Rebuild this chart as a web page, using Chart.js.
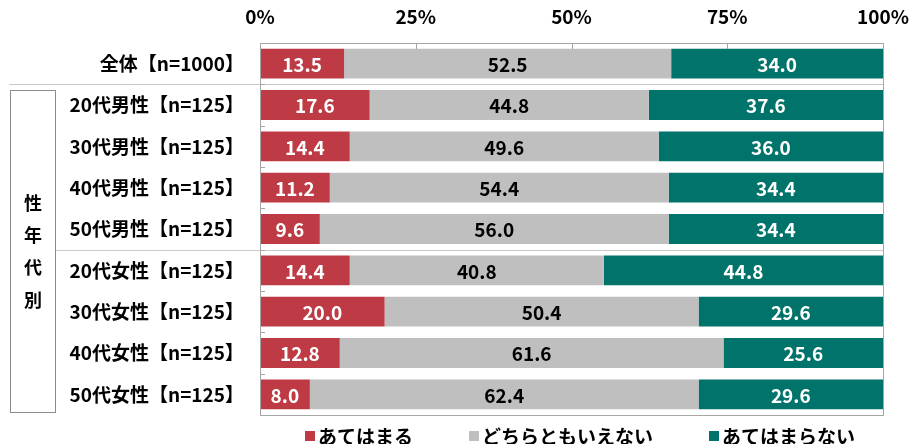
<!DOCTYPE html>
<html>
<head>
<meta charset="utf-8">
<script src="https://cdn.jsdelivr.net/npm/chart.js@4"></script>
<style>
  html, body { margin: 0; padding: 0; background: #fff; }
</style>
</head>
<body>
<canvas id="chart" width="914" height="444"></canvas>
<script>
// 行ラベル
var categories = [
  '全体【n=1000】',
  '20代男性【n=125】', '30代男性【n=125】', '40代男性【n=125】', '50代男性【n=125】',
  '20代女性【n=125】', '30代女性【n=125】', '40代女性【n=125】', '50代女性【n=125】'
];
// 各回答の割合 (%)
var atehamaru    = [13.5, 17.6, 14.4, 11.2,  9.6, 14.4, 20.0, 12.8,  8.0];
var dochiramo    = [52.5, 44.8, 49.6, 54.4, 56.0, 40.8, 50.4, 61.6, 62.4];
var atehamaranai = [34.0, 37.6, 36.0, 34.4, 34.4, 44.8, 29.6, 25.6, 29.6];
var seriesNames  = ['あてはまる', 'どちらともいえない', 'あてはまらない'];
var seriesColors = ['#be3a44', '#bfbfbf', '#00736a'];
var labelColors  = ['#ffffff', '#000000', '#ffffff'];
var xTicks = [0, 25, 50, 75, 100];
var groupLabel = '性年代別';
var separatorAfter = [0, 4]; // 区切り線を引く行

var FONT = '"Noto Sans CJK JP", "Noto Sans", sans-serif';

// 棒の中の数値
var valueLabels = {
  id: 'valueLabels',
  afterDatasetsDraw: function (chart) {
    var ctx = chart.ctx;
    ctx.save();
    ctx.font = 'bold 19px ' + FONT;
    ctx.textAlign = 'center';
    ctx.textBaseline = 'middle';
    chart.data.datasets.forEach(function (ds, i) {
      chart.getDatasetMeta(i).data.forEach(function (bar, j) {
        ctx.fillStyle = labelColors[i];
        ctx.fillText(ds.data[j].toFixed(1), (bar.x + bar.base) / 2, bar.y + 1);
      });
    });
    ctx.restore();
  }
};

// 枠・区切り線・目盛り・性年代別の枠・凡例
var decorations = {
  id: 'decorations',
  afterDraw: function (chart) {
    var ctx = chart.ctx, a = chart.chartArea;
    var xs = chart.scales.x;
    var step = (a.bottom - a.top) / categories.length;
    ctx.save();
    ctx.lineWidth = 1;

    // 区切り線
    ctx.strokeStyle = '#c8c8c8';
    separatorAfter.forEach(function (r, k) {
      var y = Math.round(a.top + (r + 1) * step) + 0.5;
      ctx.beginPath();
      ctx.moveTo(k === 0 ? 9 : 55, y);
      ctx.lineTo(a.right, y);
      ctx.stroke();
    });

    // プロット枠
    ctx.strokeStyle = '#a6a6a6';
    ctx.strokeRect(Math.round(a.left) + 0.5, Math.round(a.top) + 0.5,
      Math.round(a.right - a.left), Math.round(a.bottom - a.top));

    // 内向きの目盛り
    xTicks.slice(1, -1).forEach(function (v) {
      var x = Math.round(xs.getPixelForValue(v)) + 0.5;
      ctx.beginPath();
      ctx.moveTo(x, a.top);
      ctx.lineTo(x, a.top + 6);
      ctx.stroke();
    });
    for (var i = 1; i < categories.length; i++) {
      var y = Math.round(a.top + i * step) + 0.5;
      ctx.beginPath();
      ctx.moveTo(a.left, y);
      ctx.lineTo(a.left + 5, y);
      ctx.stroke();
    }

    // 性年代別の枠
    ctx.strokeStyle = '#8c8c8c';
    ctx.strokeRect(10.5, 90.5, 45, 322);
    ctx.fillStyle = '#000';
    ctx.font = 'bold 18px ' + FONT;
    ctx.textAlign = 'center';
    ctx.textBaseline = 'middle';
    var gy = [203, 235, 267, 300];
    groupLabel.split('').forEach(function (ch, k) {
      ctx.fillText(ch, 33, gy[k]);
    });

    // 凡例
    ctx.font = 'bold 19px ' + FONT;
    ctx.textAlign = 'left';
    var box = 10, gap = 3, spacing = 56;
    var widths = seriesNames.map(function (s) { return box + gap + ctx.measureText(s).width; });
    var total = widths.reduce(function (s, w) { return s + w; }, 0) + spacing * (widths.length - 1);
    var x = 580 - total / 2, ly = 436;
    seriesNames.forEach(function (s, k) {
      ctx.fillStyle = seriesColors[k];
      ctx.fillRect(x, ly - box / 2, box, box);
      ctx.fillStyle = '#000';
      ctx.fillText(s, x + box + gap, ly + 1);
      x += widths[k] + spacing;
    });
    ctx.restore();
  }
};

var datasets = [atehamaru, dochiramo, atehamaranai].map(function (vals, i) {
  return {
    label: seriesNames[i],
    data: vals,
    backgroundColor: seriesColors[i],
    borderWidth: 0,
    categoryPercentage: 1,
    barPercentage: 0.72
  };
});

var ctx = document.getElementById('chart');
var myChart = new Chart(ctx, {
  type: 'bar',
  data: { labels: categories, datasets: datasets },
  options: {
    responsive: false,
    animation: false,
    indexAxis: 'y',
    layout: { padding: { left: 0, right: 31, top: 0, bottom: 29 } },
    plugins: {
      legend: { display: false },
      tooltip: { enabled: false }
    },
    scales: {
      x: {
        position: 'top',
        stacked: true,
        min: 0,
        max: 100,
        afterBuildTicks: function (s) { s.ticks = xTicks.map(function (v) { return { value: v }; }); },
        afterFit: function (s) { s.height = 43; s.paddingLeft = 0; s.paddingRight = 0; },
        grid: { display: false },
        border: { display: false },
        ticks: {
          padding: 7,
          color: '#000',
          font: { family: FONT, size: 19, weight: 'bold' },
          callback: function (v) { return v + '%'; }
        }
      },
      y: {
        stacked: true,
        afterFit: function (s) { s.width = 260; },
        grid: { display: false },
        border: { display: false },
        ticks: {
          padding: 8,
          color: '#000',
          font: { family: FONT, size: 19, weight: 'bold' }
        }
      }
    }
  },
  plugins: [valueLabels, decorations]
});
</script>
</body>
</html>
